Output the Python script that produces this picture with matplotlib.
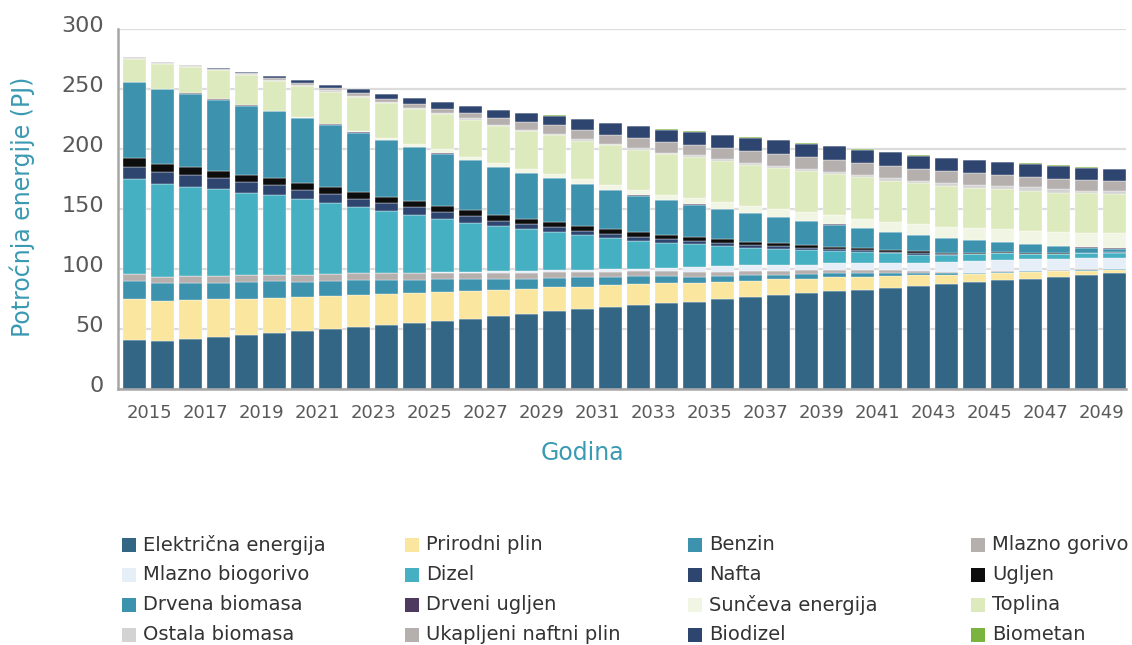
import matplotlib
matplotlib.use("Agg")
import matplotlib.pyplot as plt
from matplotlib.patches import Rectangle
from matplotlib.transforms import ScaledTranslation
import numpy as np

plt.rcParams['font.family'] = ['DejaVu Sans']

years = list(range(2015, 2051))

series_names = [
    "Električna energija", "Prirodni plin", "Benzin", "Mlazno gorivo",
    "Mlazno biogorivo", "Dizel", "Nafta", "Ugljen",
    "Drvena biomasa", "Drveni ugljen", "Sunčeva energija", "Toplina",
    "Ostala biomasa", "Ukapljeni naftni plin", "Biodizel", "Biometan",
]

series_colors = [
    "#336584", "#fae69e", "#3d93ad", "#b5afae",
    "#e6eef8", "#45b0c1", "#2e4570", "#0d0d0d",
    "#3d93ad", "#4f3a5f", "#f1f6e4", "#ddeabd",
    "#d3d3d3", "#b5afae", "#2e4570", "#7bb33f",
]

elektricna = [40.8, 40.0, 42.0, 43.6, 44.7, 46.4, 48.0, 49.7, 51.4, 53.1, 54.7, 56.9, 58.6, 60.8, 62.5, 64.7, 66.4, 68.1,
              69.7, 71.4, 72.8, 74.7, 76.4, 78.1, 79.7, 81.4, 82.5, 84.2, 85.8, 87.5, 89.2, 90.8, 92.0, 93.6, 95.3, 97.0]
prirodni_plin = [33.9, 33.3, 32.2, 31.1, 30.6, 29.4, 28.4, 27.8, 26.9, 25.8, 25.0, 23.9, 22.8, 21.7, 21.1, 20.0, 18.9, 18.3,
                 17.4, 16.7, 15.8, 14.5, 13.9, 13.3, 12.2, 11.7, 11.1, 10.0, 8.9, 7.8, 6.7, 6.2, 5.5, 4.5, 3.3, 2.2]
benzin = [15.0, 15.3, 14.4, 13.9, 13.9, 13.9, 13.1, 12.5, 12.5, 11.9, 11.1, 10.6, 10.0, 8.9, 8.1, 7.5, 7.8, 7.2,
          7.1, 6.1, 5.0, 5.0, 4.4, 3.9, 3.9, 3.3, 3.4, 2.8, 1.7, 1.1, 0.5, 0.5, 0.5, 0.5, 0.5, 0.5]
mlazno_gorivo = [5.9, 5.0, 5.6, 5.6, 5.5, 5.3, 5.9, 5.8, 5.6, 5.6, 5.7, 5.5, 5.3, 5.0, 4.7, 5.0, 4.4, 4.2,
                 3.9, 3.9, 4.2, 3.6, 3.6, 3.3, 3.4, 2.8, 2.2, 2.2, 2.2, 1.1, 0.6, 0.6, 0.6, 0.6, 0.6, 0.6]
mlazno_biogorivo = [0.0, 0.0, 0.0, 0.0, 0.0, 0.0, 0.0, 0.0, 0.0, 0.2, 0.4, 0.6, 0.8, 2.2, 2.2, 2.0, 1.7, 1.9,
                    2.2, 2.7, 4.1, 4.7, 4.8, 4.5, 4.4, 5.5, 5.5, 5.8, 6.7, 8.3, 9.5, 9.4, 9.5, 9.4, 9.5, 8.9]
dizel = [79.1, 77.2, 74.4, 72.5, 68.9, 66.4, 62.8, 58.9, 55.6, 51.7, 48.1, 44.5, 41.1, 37.2, 34.5, 31.6, 29.1, 26.1,
         23.3, 21.2, 18.9, 16.7, 14.7, 13.9, 12.2, 10.3, 9.5, 8.1, 6.7, 5.9, 5.8, 5.6, 4.4, 3.9, 3.9, 4.4]
nafta = [10.3, 9.8, 10.0, 8.9, 8.9, 8.6, 7.6, 7.8, 6.6, 6.4, 6.4, 5.5, 5.6, 4.5, 4.4, 3.9, 3.7, 3.4,
         3.4, 2.7, 2.8, 2.7, 1.9, 2.2, 2.0, 1.7, 1.6, 1.1, 1.1, 0.8, 0.5, 0.4, 0.3, 0.3, 0.2, 0.2]
ugljen = [7.2, 6.9, 6.7, 6.4, 6.1, 5.8, 6.2, 5.6, 5.8, 5.6, 5.3, 5.3, 5.0, 4.7, 4.5, 4.5, 3.8, 3.9,
          3.8, 3.6, 3.3, 3.4, 3.1, 2.2, 2.2, 1.9, 1.7, 1.6, 1.6, 1.1, 0.6, 0.7, 0.3, 0.3, 0.3, 0.2]
drvena_biomasa = [63.6, 62.3, 60.9, 59.2, 57.6, 55.7, 54.0, 52.2, 49.3, 47.0, 45.1, 43.4, 41.4, 40.1, 38.1, 36.7, 34.8, 32.5,
                  30.4, 29.0, 26.8, 24.8, 24.0, 21.7, 20.1, 18.4, 16.5, 14.8, 13.4, 12.0, 10.6, 8.1, 7.5, 5.9, 4.3, 3.0]
drveni_ugljen = [0.2] * 36
sunceva = [0.0, 0.0, 0.1, 0.2, 0.2, 0.3, 0.3, 0.5, 1.4, 1.4, 2.2, 3.3, 2.3, 3.3, 2.8, 3.1, 3.9, 4.5,
           4.4, 4.5, 5.3, 5.5, 5.5, 6.4, 7.2, 7.5, 7.8, 8.6, 8.9, 9.5, 10.0, 11.1, 11.2, 11.6, 12.2, 12.7]
toplina = [19.2, 20.8, 21.8, 24.2, 25.4, 24.8, 26.0, 26.8, 27.8, 29.2, 28.9, 29.2, 31.1, 30.6, 31.9, 32.2, 32.3, 32.8,
           33.4, 33.6, 33.9, 33.9, 34.4, 34.5, 33.9, 34.5, 34.4, 34.2, 34.2, 33.9, 33.4, 32.8, 33.3, 32.8, 32.8, 32.3]
ostala_biomasa = [0.5, 0.5, 0.6, 0.3, 0.4, 0.7, 0.8, 1.0, 1.2, 1.3, 1.4, 1.5, 1.5, 0.8, 0.8, 1.1, 1.1, 1.1,
                  1.4, 1.3, 1.6, 1.7, 1.7, 1.6, 1.7, 1.6, 1.7, 2.2, 2.2, 2.2, 2.7, 2.8, 2.8, 2.8, 2.2, 2.7]
unp = [0.8, 1.0, 1.4, 0.5, 1.0, 1.4, 2.0, 1.7, 2.1, 2.3, 3.0, 2.7, 4.0, 6.1, 6.7, 7.5, 7.7, 7.8,
       8.3, 8.9, 8.9, 9.4, 9.5, 10.0, 10.0, 10.0, 10.0, 10.0, 9.5, 10.0, 9.5, 9.4, 8.9, 8.9, 8.9, 8.4]
biodizel = [0.0, 0.0, 0.0, 0.6, 0.8, 1.7, 2.2, 2.8, 3.3, 4.1, 4.8, 5.8, 5.8, 6.1, 7.5, 7.8, 9.2, 9.6,
            10.0, 10.3, 10.8, 10.8, 11.3, 11.4, 11.3, 11.4, 11.3, 11.4, 11.3, 10.8, 11.1, 10.5, 10.8, 10.8, 10.2, 9.7]
biometan = [0.0, 0.0, 0.0, 0.0, 0.0, 0.0, 0.0, 0.0, 0.2, 0.2, 0.2, 0.3, 0.3, 0.3, 0.3, 0.3, 0.3, 0.3,
            0.3, 0.3, 0.3, 0.3, 0.3, 0.3, 0.3, 0.3, 0.3, 0.3, 0.3, 0.3, 0.3, 0.3, 0.3, 0.3, 0.3, 0.3]

series_values = [
    elektricna, prirodni_plin, benzin, mlazno_gorivo,
    mlazno_biogorivo, dizel, nafta, ugljen,
    drvena_biomasa, drveni_ugljen, sunceva, toplina,
    ostala_biomasa, unp, biodizel, biometan,
]

tick_years = list(range(2015, 2050, 2))

W, H = 1132, 645
fig = plt.figure(figsize=(W / 100, H / 100), dpi=100)
ax = fig.add_axes([118 / W, 1 - 389 / H, (1126 - 118) / W, (389 - 29) / H])

x = np.array(years)
bottom = np.zeros(len(years))
for name, vals, col in zip(series_names, series_values, series_colors):
    v = np.array(vals, dtype=float)
    ax.bar(x, v, bottom=bottom, width=0.83, color=col, edgecolor='#ffffff',
           linewidth=0.25, zorder=3)
    bottom += v

ax.set_xlim(2014.41, 2050.41)
ax.set_ylim(0, 300)
ax.set_yticks([0, 50, 100, 150, 200, 250, 300])
ax.set_xticks(tick_years)
ax.set_xticklabels([str(y) for y in tick_years])
ax.yaxis.grid(True, color='#dcdcdc', linewidth=1.6, zorder=0)
ax.set_axisbelow(True)
for s in ['top', 'right']:
    ax.spines[s].set_visible(False)
for s in ['left', 'bottom']:
    ax.spines[s].set_color('#a6a6a6')
    ax.spines[s].set_linewidth(1.8)
    ax.spines[s].set_zorder(4)

ax.tick_params(axis='x', length=0, pad=11, labelsize=13, labelcolor='#595959')
ax.tick_params(axis='y', length=0, pad=10, labelsize=16, labelcolor='#595959')

for lab in ax.get_xticklabels():
    lab.set_transform(lab.get_transform() + ScaledTranslation(0.15, 0, fig.dpi_scale_trans))
for lab in ax.get_yticklabels():
    lab.set_transform(lab.get_transform() + ScaledTranslation(0, 0.05, fig.dpi_scale_trans))

teal = '#3a9ab2'
fig.text(22 / W, 1 - 207 / H, "Potroćnja energije (PJ)", rotation=90,
         ha='center', va='center', color=teal, fontsize=17)
fig.text(582 / W, 1 - 453 / H, "Godina", ha='center', va='center',
         color=teal, fontsize=17)

# legend (4 columns, row-major)
col_x = [122, 405, 688, 971]
row_y = [545, 575, 605, 635]
for i, (name, col) in enumerate(zip(series_names, series_colors)):
    r, c = divmod(i, 4)
    px, py = col_x[c], row_y[r]
    fig.patches.append(Rectangle((px / W, 1 - (py + 7) / H), 14 / W, 14 / H,
                                 transform=fig.transFigure, facecolor=col,
                                 edgecolor='none'))
    fig.text((px + 21) / W, 1 - py / H, name, ha='left', va='center',
             fontsize=14, color='#333333')

fig.savefig("out.png", dpi=100)
